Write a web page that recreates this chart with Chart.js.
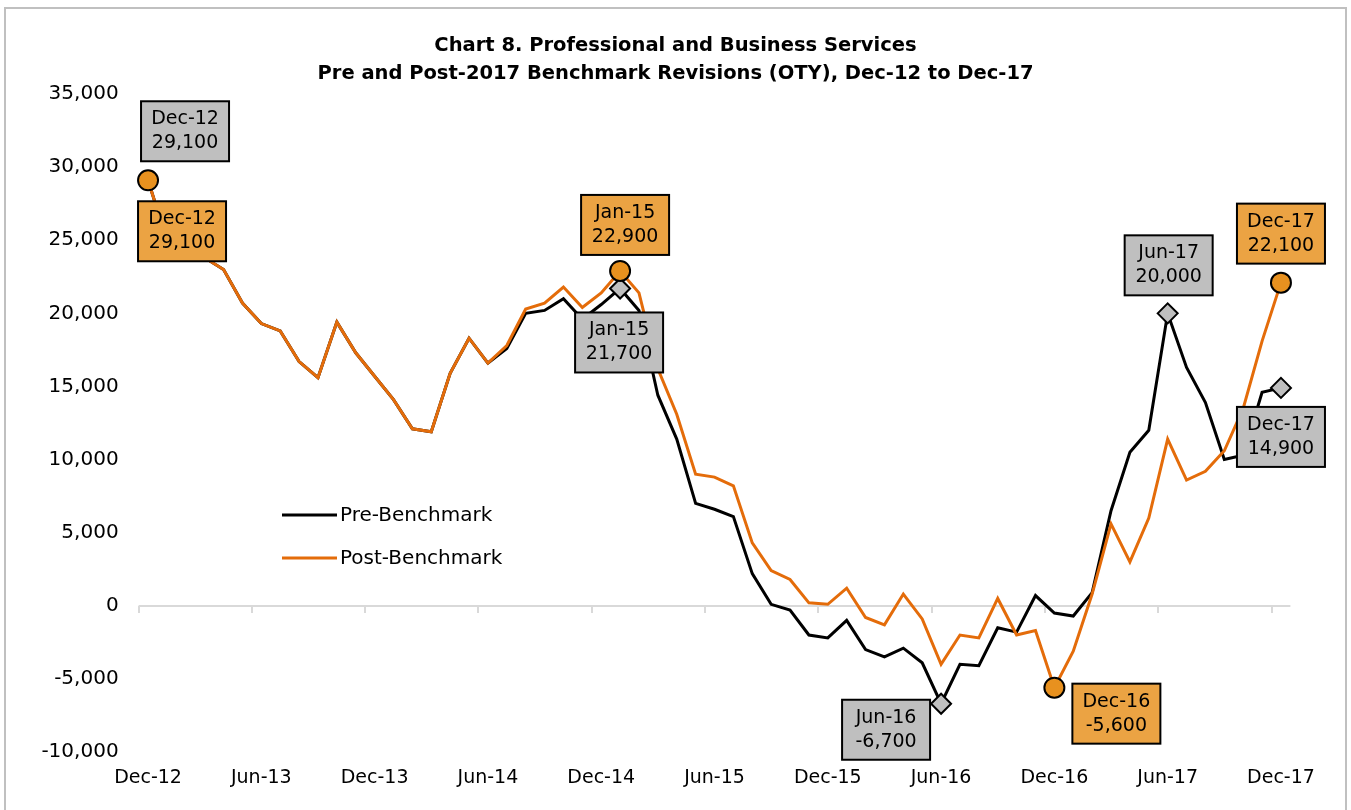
<!DOCTYPE html>
<html>
<head>
<meta charset="utf-8">
<script src="https://cdn.jsdelivr.net/npm/chart.js@4.4.1/dist/chart.umd.min.js"></script>
<style>
  body { margin: 0; background: #fff; }
</style>
</head>
<body>
<canvas id="chart" width="1351" height="810"></canvas>
<script>
const monthNames = ["Jan", "Feb", "Mar", "Apr", "May", "Jun", "Jul", "Aug", "Sep", "Oct", "Nov", "Dec"];
const months = ["Dec-12"];
for (let yr = 13; yr <= 17; yr++) monthNames.forEach(m => months.push(m + "-" + yr));

// OTY change, Dec-12 .. Dec-17
const preBenchmark = [
  29100, 25000, 24200, 23800, 23000, 20700, 19300, 18800, 16700, 15600, 19400, 17300,
  15700, 14100, 12100, 11900, 15900, 18300, 16600, 17600, 20000, 20200, 21000, 19600,
  20600, 21700, 20200, 14400, 11400, 7000, 6600, 6100, 2200, 100, -300, -2000,
  -2200, -1000, -3000, -3500, -2900, -3900, -6700, -4000, -4100, -1500, -1800, 700,
  -500, -700, 900, 6500, 10500, 12000, 20000, 16300, 13900, 10000, 10300, 14600,
  14900
];
const postBenchmark = [
  29100, 25000, 24200, 23800, 23000, 20700, 19300, 18800, 16700, 15600, 19400, 17300,
  15700, 14100, 12100, 11900, 15900, 18300, 16600, 17800, 20300, 20700, 21800, 20400,
  21400, 22900, 21400, 16200, 13100, 9000, 8800, 8200, 4300, 2400, 1800, 200,
  100, 1200, -800, -1300, 800, -900, -4000, -2000, -2200, 500, -2000, -1700,
  -5600, -3100, 800, 5600, 3000, 6000, 11400, 8600, 9200, 10600, 13500, 18100,
  22100
];

const titleLines = [
  "Chart 8. Professional and Business Services",
  "Pre and Post-2017 Benchmark Revisions (OTY), Dec-12 to Dec-17"
];

const preMarkers = ["Jan-15", "Jun-16", "Jun-17", "Dec-17"];
const postMarkers = ["Dec-12", "Jan-15", "Dec-16", "Dec-17"];

// callout boxes: which series / month, offset of box centre from the point
const callouts = [
  { series: 0, at: "Dec-12", dx: 37, dy: -49 },
  { series: 1, at: "Dec-12", dx: 34, dy: 51 },
  { series: 1, at: "Jan-15", dx: 5, dy: -46 },
  { series: 0, at: "Jan-15", dx: -1, dy: 54 },
  { series: 0, at: "Jun-16", dx: -55, dy: 26 },
  { series: 1, at: "Dec-16", dx: 62, dy: 26 },
  { series: 0, at: "Jun-17", dx: 1, dy: -48 },
  { series: 1, at: "Dec-17", dx: 0, dy: -49 },
  { series: 0, at: "Dec-17", dx: 0, dy: 49 }
];
const boxFill = ["#bfbfbf", "#eba343"];

const FONT = "'DejaVu Sans', sans-serif";

const decor = {
  id: "decor",
  beforeDraw(chart) {
    const c = chart.ctx;
    c.save();
    c.fillStyle = "#fff";
    c.fillRect(0, 0, chart.width, chart.height);
    c.strokeStyle = "#c0c0c0";
    c.lineWidth = 2;
    c.strokeRect(5, 8, chart.width - 10, chart.height + 20);
    // title, centred on the whole frame
    c.fillStyle = "#000";
    c.font = "bold 19.5px " + FONT;
    c.textAlign = "center";
    c.textBaseline = "middle";
    titleLines.forEach((t, k) => c.fillText(t, chart.width / 2, 46 + k * 28));
    c.restore();
  },
  beforeDatasetsDraw(chart) {
    const { ctx: c, chartArea: a, scales: { x, y } } = chart;
    const y0 = Math.round(y.getPixelForValue(0));
    const half = (x.getPixelForValue(1) - x.getPixelForValue(0)) / 2;
    c.save();
    c.strokeStyle = "#d9d9d9";
    c.lineWidth = 2;
    c.beginPath();
    c.moveTo(a.left, y0);
    c.lineTo(a.right, y0);
    months.forEach((m, i) => {
      if (i % 6) return;
      const px = Math.round(x.getPixelForValue(i) - half);
      c.moveTo(px, y0);
      c.lineTo(px, y0 + 7);
    });
    c.stroke();
    c.restore();
  },
  afterDatasetsDraw(chart) {
    const { ctx: c, scales: { x, y } } = chart;
    c.save();
    // callouts
    c.font = "19px " + FONT;
    c.textAlign = "center";
    c.textBaseline = "middle";
    callouts.forEach(co => {
      const i = months.indexOf(co.at);
      const v = chart.data.datasets[co.series].data[i];
      const cx = x.getPixelForValue(i) + co.dx;
      const cy = y.getPixelForValue(v) + co.dy;
      const w = 88, h = 60;
      c.fillStyle = boxFill[co.series];
      c.fillRect(cx - w / 2, cy - h / 2, w, h);
      c.strokeStyle = "#000";
      c.lineWidth = 2;
      c.strokeRect(cx - w / 2, cy - h / 2, w, h);
      c.fillStyle = "#000";
      c.fillText(co.at, cx, cy - 12);
      c.fillText(v.toLocaleString("en-US"), cx, cy + 12);
    });
    // legend inside plot
    c.textAlign = "left";
    c.font = "20px " + FONT;
    chart.data.datasets.forEach((ds, k) => {
      const ly = 515 + k * 43;
      c.strokeStyle = ds.borderColor;
      c.lineWidth = 3;
      c.beginPath();
      c.moveTo(282, ly);
      c.lineTo(337, ly);
      c.stroke();
      c.fillStyle = "#000";
      c.fillText(ds.label, 340, ly + 1);
    });
    c.restore();
  }
};

new Chart(document.getElementById("chart"), {
  type: "line",
  data: {
    labels: months,
    datasets: [
      {
        label: "Pre-Benchmark",
        data: preBenchmark,
        borderColor: "#000000",
        borderWidth: 3,
        order: 2,
        pointStyle: "rectRot",
        pointRadius: c => preMarkers.includes(months[c.dataIndex]) ? 10 : 0,
        pointBackgroundColor: "#bfbfbf",
        pointBorderColor: "#000",
        pointBorderWidth: 2
      },
      {
        label: "Post-Benchmark",
        data: postBenchmark,
        borderColor: "#e46c0a",
        borderWidth: 3,
        order: 1,
        pointStyle: "circle",
        pointRadius: c => postMarkers.includes(months[c.dataIndex]) ? 10 : 0,
        pointBackgroundColor: "#e8911f",
        pointBorderColor: "#000",
        pointBorderWidth: 2
      }
    ]
  },
  options: {
    responsive: false,
    animation: false,
    layout: { padding: { left: 0, right: 60.6, top: 94, bottom: 0 } },
    plugins: {
      legend: { display: false },
      tooltip: { enabled: false },
      title: { display: false }
    },
    scales: {
      x: {
        offset: true,
        grid: { display: false, drawTicks: false },
        border: { display: false },
        ticks: {
          autoSkip: false,
          maxRotation: 0,
          padding: 15,
          color: "#000",
          font: { family: FONT, size: 19 },
          callback: (v, i) => (i % 6 === 0 ? months[i] : "")
        },
        afterFit: s => { s.height = 58; }
      },
      y: {
        min: -10000,
        max: 35000,
        grid: { display: false, drawTicks: false },
        border: { display: false },
        ticks: {
          stepSize: 5000,
          padding: 20,
          color: "#000",
          font: { family: FONT, size: 20 },
          callback: v => v.toLocaleString("en-US")
        },
        afterFit: s => { s.width = 138.6; }
      }
    }
  },
  plugins: [decor]
});
</script>
</body>
</html>
